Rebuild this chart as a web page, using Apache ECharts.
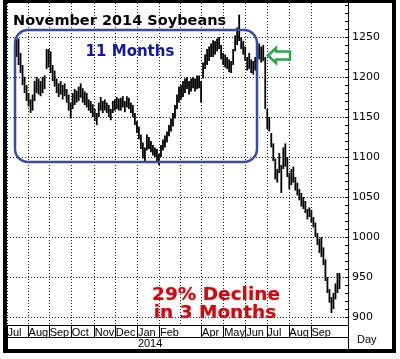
<!DOCTYPE html>
<html>
<head>
<meta charset="utf-8">
<script src="https://cdn.jsdelivr.net/npm/echarts@6/dist/echarts.min.js"></script>
<style>
html,body{margin:0;padding:0;background:#fff;}
#c{width:400px;height:359px;}
</style>
</head>
<body>
<div id="c"></div>
<script>
// ---- data ----
const monthLabels = ['Jul','Aug','Sep','Oct','Nov','Dec','Jan','Feb','','Apr','May','Jun','Jul','Aug','Sep'];
const monthDays   = [21,21,22,23,21,22,22,21,21,22,22,21,22,22,37];
const yearLabel = '2014';
const yearMonthIndex = 6; // Jan 2014
const yTicks = [900,950,1000,1050,1100,1150,1200,1250];
const firstDay = 9;   // first trading-day slot with data
const dayStep = 2;    // one bar sample every 2 slots
const lows = [1225,1215,1205,1190,1180,1170,1163,1155,1158,1170,1180,1178,1176,1180,1185,1210,1212,1205,1195,1188,
  1180,1175,1178,1172,1176,1168,1158,1148,1160,1165,1168,1170,1174,1168,1165,1162,1158,1155,1150,1145,
  1140,1150,1158,1155,1158,1155,1150,1146,1155,1158,1160,1158,1158,1162,1156,1162,1160,1155,1150,1140,
  1130,1122,1110,1098,1095,1108,1110,1106,1102,1100,1095,1090,1100,1108,1112,1118,1126,1132,1138,1148,
  1160,1168,1172,1175,1180,1185,1178,1182,1186,1182,1185,1186,1168,1198,1210,1215,1220,1225,1225,1228,
  1232,1235,1222,1215,1212,1210,1206,1205,1215,1232,1240,1245,1235,1228,1220,1208,1210,1205,1203,1208,
  1215,1222,1218,1220,1160,1135,1132,1112,1095,1072,1068,1080,1055,1085,1088,1075,1060,1065,1068,1058,
  1052,1046,1038,1035,1030,1022,1025,1018,1012,1000,990,980,975,965,945,930,918,905,910,922,930,935];
const highs = [1250,1248,1230,1215,1200,1190,1180,1172,1178,1195,1200,1198,1195,1200,1202,1235,1235,1232,1215,1208,
  1198,1192,1195,1190,1192,1185,1178,1168,1180,1185,1183,1188,1192,1186,1182,1180,1172,1170,1166,1160,
  1155,1168,1175,1170,1172,1168,1165,1160,1170,1172,1175,1173,1174,1176,1170,1176,1174,1168,1165,1155,
  1145,1138,1128,1118,1112,1128,1125,1120,1115,1112,1110,1104,1115,1122,1127,1132,1140,1148,1155,1165,
  1178,1188,1190,1195,1198,1200,1195,1198,1200,1198,1202,1202,1195,1218,1228,1235,1238,1242,1246,1245,
  1248,1250,1240,1230,1228,1225,1222,1220,1235,1252,1262,1278,1250,1245,1238,1225,1230,1222,1220,1225,
  1235,1242,1238,1240,1225,1160,1150,1130,1117,1098,1085,1105,1090,1112,1117,1100,1080,1085,1088,1075,
  1068,1060,1055,1050,1045,1035,1037,1034,1025,1018,1005,998,1000,987,972,950,935,925,930,942,955,955];

// ---- build ----
const monthStart = [];
let acc = 0;
monthDays.forEach(d => { monthStart.push(acc); acc += d; });
const nSlots = acc;
const slots = [];
for (let i = 0; i < nSlots; i++) slots.push('d' + i);
const labelAt = {};
const gridAt = {};
monthStart.forEach((s, k) => { gridAt[s] = true; if (monthLabels[k]) labelAt[s] = monthLabels[k]; });
const yearSlot = monthStart[yearMonthIndex];
const bars = lows.map((lo, k) => [firstDay + k * dayStep, lo, highs[k]]);

const dotted = {show: true, lineStyle: {color: '#222', width: 1, type: [1, 2]}};
const chart = echarts.init(document.getElementById('c'), null, {renderer: 'canvas'});
chart.setOption({
  animation: false,
  backgroundColor: '#fff',
  grid: [
    {left: 7, right: 52, top: -3, height: 320, containLabel: false, outerBoundsMode: 'none'},
    {left: 7, right: 52, top: 317, height: 8, containLabel: false, outerBoundsMode: 'none'}
  ],
  xAxis: [
    {
      gridIndex: 0, type: 'category', position: 'bottom', data: slots, boundaryGap: true, offset: 8,
      axisLine: {show: true, lineStyle: {color: '#000', width: 1}},
      axisTick: {show: true, length: 12, inside: false, interval: (i) => !!labelAt[i], lineStyle: {color: '#000'}},
      axisLabel: {show: true, interval: (i) => !!labelAt[i], formatter: (v, i) => labelAt[i] || '',
        align: 'left', margin: 2, fontSize: 11, fontFamily: 'Liberation Sans, Arial, sans-serif', color: '#000'},
      splitLine: Object.assign({interval: (i) => !!gridAt[i]}, dotted)
    },
    {
      gridIndex: 0, type: 'category', position: 'bottom', data: slots, boundaryGap: true, offset: 20,
      axisLine: {show: true, lineStyle: {color: '#000', width: 1}},
      axisTick: {show: true, length: 12, inside: false, interval: (i) => i === yearSlot, lineStyle: {color: '#000'}},
      axisLabel: {show: true, interval: (i) => i === yearSlot, formatter: (v, i) => i === yearSlot ? yearLabel : '',
        align: 'left', margin: 1, fontSize: 11, fontFamily: 'Liberation Sans, Arial, sans-serif', color: '#000'},
      splitLine: {show: false}
    },
    {
      gridIndex: 1, type: 'category', position: 'bottom', data: slots, boundaryGap: true,
      axisLine: {show: false}, axisTick: {show: false}, axisLabel: {show: false},
      splitLine: Object.assign({interval: (i) => !!gridAt[i]}, dotted)
    }
  ],
  yAxis: [
    {
      gridIndex: 0, type: 'value', position: 'right', min: 900, max: 1300, interval: 50,
      axisLine: {show: true, lineStyle: {color: '#000', width: 1}},
      axisTick: {show: true, inside: true, length: 3, lineStyle: {color: '#000'}},
      minorTick: {show: true, splitNumber: 5, length: 3, lineStyle: {color: '#000'}},
      axisLabel: {show: true, margin: 4, fontSize: 11, fontFamily: 'DejaVu Sans, sans-serif', color: '#000',
        formatter: (v) => yTicks.indexOf(v) >= 0 ? String(v) : ''},
      splitLine: dotted
    },
    {gridIndex: 1, type: 'value', min: 0, max: 1, show: false}
  ],
  series: [{
    type: 'custom',
    xAxisIndex: 0, yAxisIndex: 0,
    data: bars,
    encode: {x: 0, y: [1, 2]},
    renderItem: (params, api) => {
      const x = api.value(0);
      const pLo = api.coord([x, api.value(1)]);
      const pHi = api.coord([x, api.value(2)]);
      return {type: 'rect', shape: {x: pLo[0] - 0.9, y: pHi[1], width: 1.8, height: Math.max(1, pLo[1] - pHi[1])},
        style: {fill: '#000'}};
    }
  }],
  graphic: [
    {type: 'line', shape: {x1: 348.5, y1: 317, x2: 348.5, y2: 350}, style: {stroke: '#000', lineWidth: 1}, z: 50},
    {type: 'rect', shape: {x: 15, y: 30, width: 242, height: 132, r: 13},
      style: {fill: 'none', stroke: '#3d4a9c', lineWidth: 2.5}, z: 60},
    {type: 'text', x: 130, y: 52, style: {text: '11 Months', fill: '#1a1a90', font: 'bold 15px "DejaVu Sans", sans-serif',
      textAlign: 'center', textVerticalAlign: 'middle'}, z: 60},
    {type: 'text', x: 13, y: 21, style: {text: 'November 2014 Soybeans', fill: '#000', font: 'bold 14.5px "DejaVu Sans", sans-serif',
      textAlign: 'left', textVerticalAlign: 'middle'}, z: 60},
    {type: 'polygon', shape: {points: [[268, 55.5], [276, 48], [276, 51.5], [290, 51.5], [290, 59.5], [276, 59.5], [276, 63]]},
      style: {fill: '#fff', stroke: '#35a04e', lineWidth: 2.5}, z: 60},
    {type: 'text', x: 216, y: 295, style: {text: '29% Decline', fill: '#bf1018', font: 'bold 18.5px "DejaVu Sans", sans-serif',
      textAlign: 'center', textVerticalAlign: 'middle', textShadowColor: 'rgba(190,16,24,0.45)', textShadowBlur: 2}, z: 60},
    {type: 'text', x: 215, y: 313, style: {text: 'in 3 Months', fill: '#bf1018', font: 'bold 18.5px "DejaVu Sans", sans-serif',
      textAlign: 'center', textVerticalAlign: 'middle', textShadowColor: 'rgba(190,16,24,0.45)', textShadowBlur: 2}, z: 60},
    {type: 'text', x: 357, y: 340, style: {text: 'Day', fill: '#000', font: '11px "Liberation Sans", Arial, sans-serif',
      textAlign: 'left', textVerticalAlign: 'middle'}, z: 60},
    {type: 'rect', shape: {x: 5, y: 1, width: 389, height: 350}, style: {fill: 'none', stroke: '#000', lineWidth: 4}, z: 100}
  ]
});
</script>
</body>
</html>
